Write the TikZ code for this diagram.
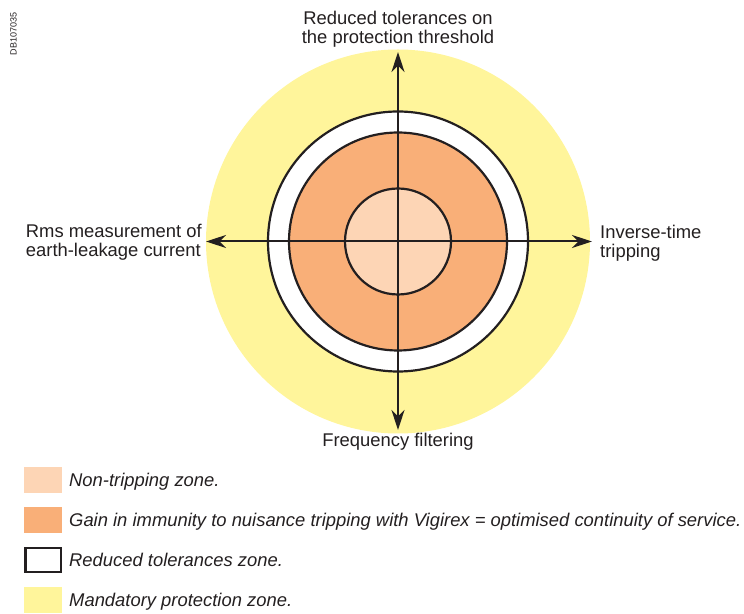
\documentclass[tikz,border=0pt]{standalone}
\usepackage{fontspec}
\setmainfont{Liberation Sans}
\usetikzlibrary{arrows.meta}

\definecolor{mandatory}{HTML}{FFF59B}
\definecolor{immunity}{HTML}{F9AF78}
\definecolor{nontrip}{HTML}{FDD5B5}
\definecolor{ink}{HTML}{231F20}

\tikzset{zone/.style={draw=ink,line width=2.2pt},
axis/.style={draw=ink,line width=2pt,{Stealth[length=20pt,width=13pt]}-{Stealth[length=20pt,width=13pt]}},
axis label/.style={font=\fontsize{18.4}{19}\selectfont,text=ink,inner sep=0pt},
legend box/.style={anchor=center,minimum width=38pt,minimum height=26.6pt,inner sep=0pt,outer sep=0pt},
legend text/.style={font=\fontsize{18.4}{19}\selectfont\itshape,text=ink,anchor=base west,inner sep=0pt}}

\begin{document}
\begin{tikzpicture}[x=1pt,y=1pt]
\useasboundingbox (0,0) rectangle (744,613);

%% Coordinates of the centre and the arrow tips.
\coordinate (c) at (398,371.5);
\coordinate (ntip) at (398,561);
\coordinate (stip) at (398,183);
\coordinate (wtip) at (206,371.5);
\coordinate (etip) at (592,371.5);

%% zones
\fill [mandatory] (c) circle (192);
\filldraw [zone,fill=white] (c) circle (130);
\filldraw [zone,fill=immunity] (c) circle (109);
\filldraw [zone,fill=nontrip] (c) circle (53);

%% axes
\draw [axis] (stip) -- (ntip);
\draw [axis] (wtip) -- (etip);

%% axis labels
\node [axis label,align=center,anchor=center] (tol) at (398,584) {Reduced tolerances on\\the protection threshold};
\node [axis label,anchor=base] (freq) at (398,166) {Frequency filtering};
\node [axis label,align=left,anchor=east] (rms) at (202,370.5) {Rms measurement of\\earth-leakage current};
\node [axis label,align=left,anchor=west] (inv) at (600,370) {Inverse-time\\tripping};

%% reference
\node [font=\fontsize{9}{10}\selectfont,text=ink,rotate=90,inner sep=0pt] (ref) at (13.5,579) {DB107035};

%% legend
\node [legend box,fill=nontrip] (k1) at (43,133) {};
\node [legend box,fill=immunity] (k2) at (43,93) {};
\node [legend box,draw=ink,line width=2.5pt,minimum width=35.5pt,minimum height=24.1pt] (k3) at (43,53) {};
\node [legend box,fill=mandatory] (k4) at (43,13) {};
\node [legend text] (t1) at (69,126.3) {Non-tripping zone.};
\node [legend text] (t2) at (69,86.3) {Gain in immunity to nuisance tripping with Vigirex = optimised continuity of service.};
\node [legend text] (t3) at (69,46.3) {Reduced tolerances zone.};
\node [legend text] (t4) at (69,6.3) {Mandatory protection zone.};

\end{tikzpicture}
\end{document}
